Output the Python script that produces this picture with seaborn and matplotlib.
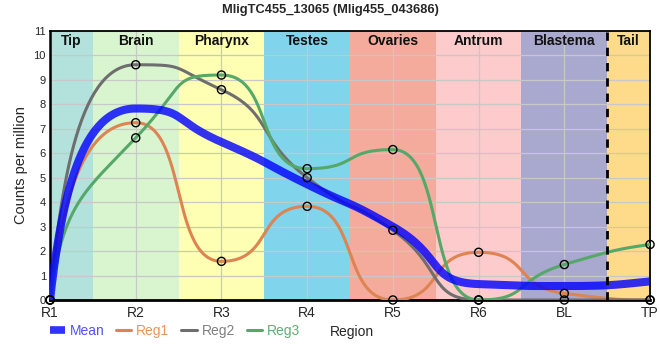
import numpy as np
import pandas as pd
import seaborn as sns
import matplotlib
matplotlib.use("Agg")
import matplotlib.pyplot as plt
from matplotlib.lines import Line2D

# valores
regions = ["R1", "R2", "R3", "R4", "R5", "R6", "BL", "TP"]
reg1 = [0, 7.25, 1.58, 3.83, 0, 1.95, 0.27, 0]
reg2 = [0, 9.62, 8.6, 5.0, 2.85, 0, 0, 0]
reg3 = [0, 6.63, 9.2, 5.37, 6.15, 0, 1.45, 2.27]
mean = [0, 7.83, 6.46, 4.73, 3.0, 0.65, 0.57, 0.76]

zones = ["Tip", "Brain", "Pharynx", "Testes", "Ovaries", "Antrum", "Blastema", "Tail"]
zone_edges = [0, 0.5, 1.5, 2.5, 3.5, 4.5, 5.5, 6.5, 7]
zone_colors = ["#b3e2dd", "#d9f5d0", "#ffffb3", "#80d4eb",
               "#f4ab9c", "#fdcbcb", "#a9a8cf", "#fedb8b"]


# linea suave monotona (bezier por tramos) solo para el trazo
def suavizar(y, a=0.6, n=60):
    y = np.asarray(y, float)
    x = np.arange(len(y), dtype=float)
    d = np.diff(y)
    m = np.zeros(len(y))
    for k in range(1, len(y) - 1):
        if d[k - 1] * d[k] > 0:
            m[k] = 2 / (1 / d[k - 1] + 1 / d[k])
            lim = min(abs(d[k - 1]), abs(d[k])) / a
            m[k] = np.sign(m[k]) * min(abs(m[k]), lim)
    s = (3 * d[-1] - d[-2]) / 2
    m[-1] = s if np.sign(s) == np.sign(d[-1]) else 0
    xs, ys = [], []
    t = np.linspace(0, 1, n)[:, None]
    for i in range(len(y) - 1):
        p0 = np.array([x[i], y[i]])
        p3 = np.array([x[i + 1], y[i + 1]])
        lo, hi = min(y[i], y[i + 1]), max(y[i], y[i + 1])
        if i == 0:
            p1 = np.array([x[i] + 0.15, y[i] + 0.6 * d[i]])
        else:
            p1 = np.array([x[i] + a, np.clip(y[i] + a * m[i], lo, hi)])
        b = 1 / 3 if i == len(y) - 2 else a
        p2 = np.array([x[i + 1] - b, np.clip(y[i + 1] - b * m[i + 1], lo, hi)])
        pts = ((1 - t) ** 3) * p0 + 3 * ((1 - t) ** 2) * t * p1 + 3 * (1 - t) * t ** 2 * p2 + t ** 3 * p3
        xs.append(pts[:, 0])
        ys.append(pts[:, 1])
    return np.concatenate(xs), np.concatenate(ys)


xpos = np.arange(len(regions))
series = {"Mean": mean, "Reg1": reg1, "Reg2": reg2, "Reg3": reg3}
colors = {"Mean": "#0000ff", "Reg1": "#dd8452", "Reg2": "#6e6e6e", "Reg3": "#55a868"}
text_colors = {"Mean": "#5050ff", "Reg1": "#e8955f", "Reg2": "#808080", "Reg3": "#5fae72"}

curvas = []
for k, v in series.items():
    cx, cy = suavizar(v)
    curvas.append(pd.DataFrame({"x": cx, "y": cy, "serie": k}))
curvas = pd.concat(curvas)
puntos = pd.concat([pd.DataFrame({"x": xpos, "y": v, "serie": k})
                    for k, v in series.items() if k != "Mean"])

sns.set_style("white")
plt.rcParams["font.family"] = ["Liberation Sans", "DejaVu Sans"]

fig = plt.figure(figsize=(6.6, 3.6), dpi=100)
ax = fig.add_axes([0.0758, 0.1667, 0.9091, 0.7472])

for i, z in enumerate(zones):
    ax.axvspan(zone_edges[i], zone_edges[i + 1], color=zone_colors[i], lw=0, zorder=0.2)
    ax.text((zone_edges[i] + zone_edges[i + 1]) / 2, 10.6, z, ha="center", va="center",
            fontsize=10, fontweight="bold", color="#111111")

ax.set_axisbelow(True)
ax.grid(True, color="#c8c8c8", lw=0.9)

for k in ["Reg1", "Reg2", "Reg3"]:
    sns.lineplot(data=curvas[curvas.serie == k], x="x", y="y", color=colors[k], sort=False,
                 estimator=None, lw=2.2, ax=ax, zorder=3, legend=False)
sns.lineplot(data=curvas[curvas.serie == "Mean"], x="x", y="y", color=colors["Mean"], sort=False,
             estimator=None, lw=5.8, alpha=0.8, ax=ax, zorder=4, legend=False)
sns.scatterplot(data=puntos, x="x", y="y", s=34, facecolor="none", edgecolor="black",
                linewidth=1.0, ax=ax, zorder=5, clip_on=False, legend=False)

ax.axvline(6.5, color="black", lw=2, ls=(0, (3, 2.5)), zorder=4)

ax.set_xlim(0, 7)
ax.set_ylim(0, 11)
ax.set_xticks(xpos)
ax.set_xticklabels(regions, fontsize=10)
ax.set_yticks(range(12))
ax.tick_params(axis="y", labelsize=8, length=0, pad=3)
ax.tick_params(axis="x", length=0, pad=4)
for s in ax.spines.values():
    s.set_color("black")
    s.set_linewidth(1.3)
ax.spines["bottom"].set_linewidth(2)
ax.spines["left"].set_linewidth(1.8)

ax.set_ylabel("Counts per million", fontsize=10.5, labelpad=4)
ax.set_xlabel("Region", fontsize=10)
ax.xaxis.set_label_coords(0.503, -0.093)
fig.suptitle("MligTC455_13065 (Mlig455_043686)", fontsize=9.3, fontweight="bold", y=0.99)

handles = [Line2D([], [], color=colors["Mean"], lw=5.5, alpha=0.8, solid_capstyle="butt"),
           Line2D([], [], color=colors["Reg1"], lw=2.2),
           Line2D([], [], color=colors["Reg2"], lw=2.2),
           Line2D([], [], color=colors["Reg3"], lw=2.2)]
leg = fig.legend(handles, list(series.keys()), loc="center left", bbox_to_anchor=(0.075, 0.08),
                 ncol=4, frameon=False, fontsize=10, handlelength=1.1, handletextpad=0.35,
                 columnspacing=0.85, borderpad=0, borderaxespad=0)
for t in leg.get_texts():
    t.set_color(text_colors[t.get_text()])

fig.savefig("out.png", dpi=100)
